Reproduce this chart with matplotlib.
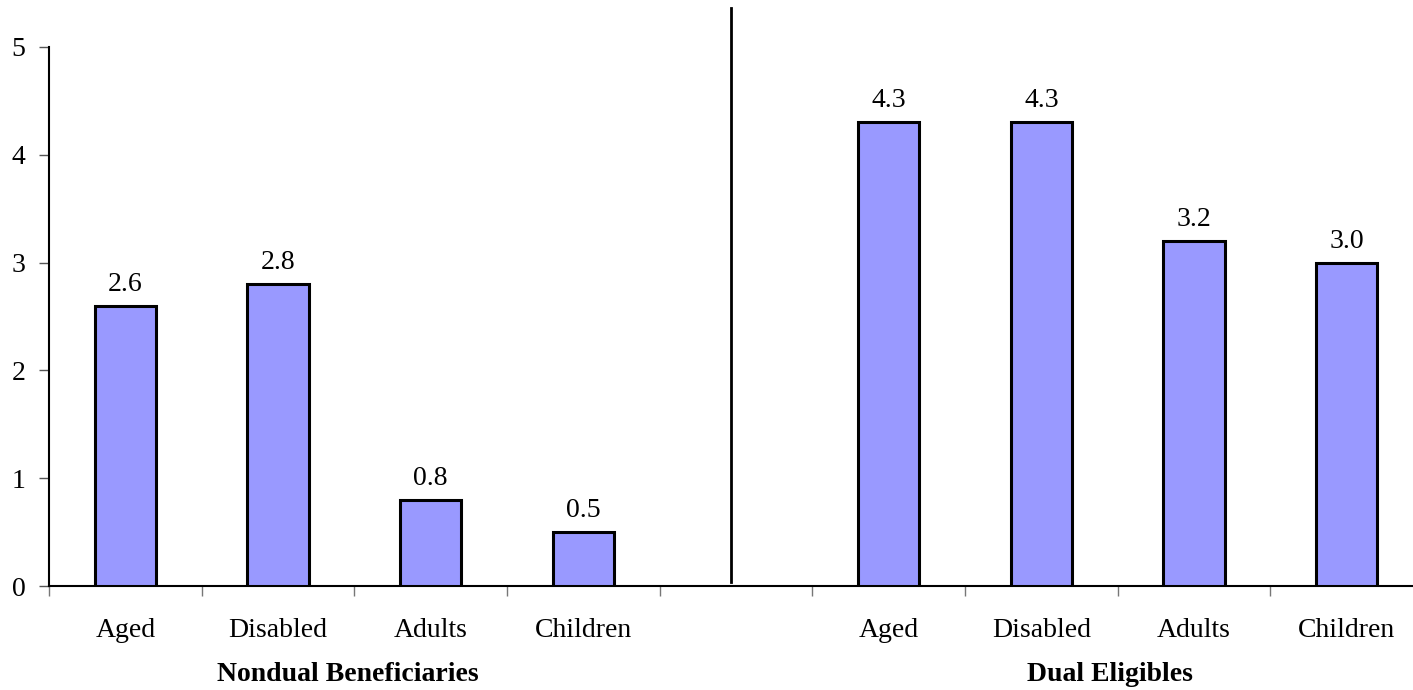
import matplotlib
matplotlib.use("Agg")
import matplotlib.pyplot as plt
import numpy as np

categories = ["Aged", "Disabled", "Adults", "Children", "",
              "Aged", "Disabled", "Adults", "Children"]
values = [2.6, 2.8, 0.8, 0.5, None, 4.3, 4.3, 3.2, 3.0]
groups = ["Nondual Beneficiaries", "Dual Eligibles"]
group_centers = [1.46, 6.45]
yticks = [0, 1, 2, 3, 4, 5]

plt.rcParams['font.family'] = ['Liberation Serif', 'DejaVu Serif']
fs = 20

fig = plt.figure(figsize=(14.13, 6.9), dpi=100)
ax = fig.add_axes([49 / 1413, 1 - 586 / 690, (1423 - 49) / 1413, (586 - 47) / 690])

x = np.arange(len(categories))
for xi, v in zip(x, values):
    if v is None:
        continue
    ax.bar(xi, v, width=0.4, color="#9999FF", edgecolor="black", linewidth=2.2, zorder=3)
    ax.text(xi, v + 0.2, f"{v:.1f}", ha="center", va="center", fontsize=fs)

ax.set_xlim(-0.5, len(categories) - 0.5)
ax.set_ylim(0, 5)
ax.set_yticks(yticks)
ax.set_yticklabels([str(t) for t in yticks], fontsize=fs)
ax.tick_params(axis="y", length=7, width=1, color="#555555", pad=10)

ax.set_xticks(x)
ax.set_xticklabels(categories, fontsize=fs)
ax.tick_params(axis="x", which="major", length=0, pad=23)
ax.set_xticks(np.arange(-0.5, len(categories)), minor=True)
ax.tick_params(axis="x", which="minor", length=7, width=1, color="#777777")

for s in ["top", "right"]:
    ax.spines[s].set_visible(False)
ax.spines["left"].set_linewidth(1.5)
ax.spines["bottom"].set_linewidth(1.5)

# divider between groups
ax.plot([3.97, 3.97], [0.04, 5.36], color="black", linewidth=2, clip_on=False)

for name, cx in zip(groups, group_centers):
    ax.text(cx, -0.82, name, ha="center", va="center", fontsize=fs,
            fontweight="bold")

fig.savefig("out.png", dpi=100)
